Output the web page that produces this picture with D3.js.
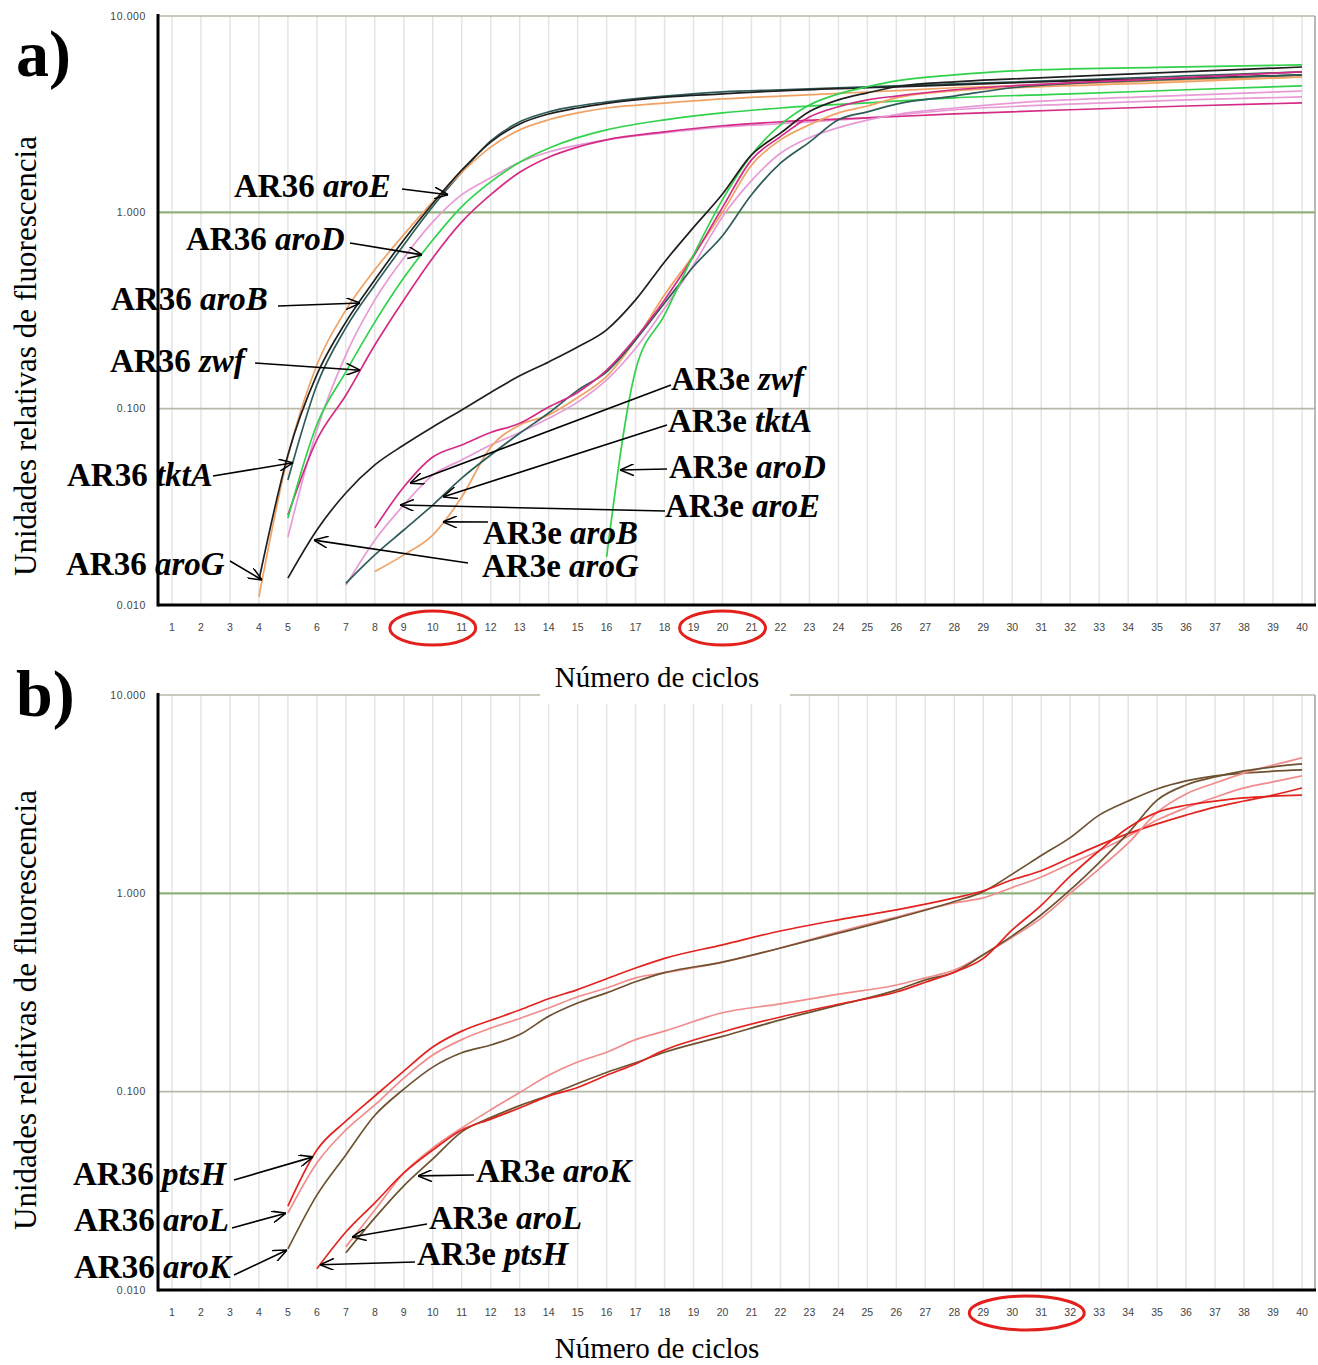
<!DOCTYPE html>
<html>
<head>
	<meta charset="utf-8">
	<title>Curvas de amplificacion</title>
	<script src="https://d3js.org/d3.v7.min.js"></script>
	<style>
		body { margin: 0; background: white; }
		#plot { width: 1318px; height: 1365px; }
	</style>
</head>
<body>
<div id="plot"></div>
<script>
// ---- DATA (cycle, relative fluorescence units) ----
var cycles = d3.range(1, 41)
var yTicks = [0.01, 0.1, 1, 10]
var yTickLabels = ['0.010', '0.100', '1.000', '10.000']

// panel a, strain AR36
var a36_aroG = [[4,0.0134],[5,0.0581],[6,0.149],[7,0.276],[8,0.453],[9,0.723],[10,1.11],[11,1.64],[12,2.28],[13,2.82],[14,3.17],[15,3.40],[16,3.59],[18,3.86],[20,4.01],[22,4.16],[25,4.31],[28,4.46],[32,4.67],[36,4.83],[40,5.01]]
var a36_aroB = [[4,0.0110],[5,0.057],[6,0.167],[7,0.318],[8,0.51],[9,0.77],[10,1.13],[11,1.60],[12,2.15],[13,2.63],[14,2.96],[15,3.21],[16,3.40],[18,3.60],[20,3.78],[22,3.91],[25,4.10],[28,4.31],[32,4.51],[36,4.72],[40,4.89]]
var a36_tktA = [[5,0.0433],[6,0.132],[7,0.258],[8,0.427],[9,0.682],[10,1.07],[11,1.60],[12,2.31],[13,2.89],[14,3.25],[15,3.48],[16,3.65],[18,3.91],[20,4.11],[22,4.21],[25,4.36],[28,4.51],[32,4.72],[36,4.95],[40,5.19]]
var a36_aroE = [[5,0.0222],[6,0.0779],[7,0.188],[8,0.358],[9,0.586],[10,0.894],[11,1.23],[12,1.50],[13,1.80],[14,2.03],[15,2.20],[16,2.34],[18,2.54],[20,2.72],[22,2.83],[25,3.03],[28,3.33],[32,3.56],[36,3.74],[40,3.87]]
var a36_aroD = [[5,0.0277],[6,0.083],[7,0.154],[8,0.276],[9,0.464],[10,0.723],[11,1.07],[12,1.43],[13,1.80],[14,2.12],[15,2.40],[16,2.63],[18,2.96],[20,3.21],[22,3.40],[25,3.61],[28,3.83],[32,4.01],[36,4.21],[40,4.41]]
var a36_zwf  = [[5,0.0287],[6,0.0693],[7,0.117],[8,0.211],[9,0.358],[10,0.586],[11,0.894],[12,1.23],[13,1.60],[14,1.91],[15,2.15],[16,2.34],[18,2.57],[20,2.76],[22,2.89],[25,3.03],[28,3.17],[32,3.33],[36,3.48],[40,3.61]]

// panel a, strain AR3e
var a3e_aroG = [[5,0.0137],[6,0.0241],[7,0.0372],[8,0.0517],[9,0.0653],[10,0.0807],[11,0.0985],[12,0.121],[13,0.147],[14,0.173],[15,0.206],[16,0.252],[17,0.358],[18,0.559],[19,0.838],[20,1.24],[21,1.96],[22,2.53],[23,3.26],[24,3.74],[25,4.06],[26,4.36],[28,4.62],[30,4.78],[35,5.13],[40,5.50]]
var a3e_zwf  = [[8,0.0247],[9,0.0399],[10,0.0567],[11,0.0653],[12,0.0756],[13,0.0842],[14,0.102],[15,0.121],[16,0.157],[17,0.229],[18,0.358],[19,0.597],[20,1.06],[21,1.85],[22,2.43],[23,3.06],[24,3.45],[25,3.74],[26,3.91],[28,4.21],[30,4.41],[35,4.78],[40,5.19]]
var a3e_aroE = [[7,0.0126],[8,0.0214],[9,0.0323],[10,0.0459],[11,0.0548],[12,0.0653],[13,0.0756],[14,0.0894],[15,0.108],[16,0.140],[17,0.203],[18,0.325],[19,0.54],[20,0.95],[21,1.45],[22,2.00],[23,2.40],[24,2.70],[25,2.95],[26,3.15],[28,3.40],[30,3.60],[35,3.90],[40,4.15]]
var a3e_tktA = [[7,0.0129],[8,0.018],[9,0.0241],[10,0.0323],[11,0.0443],[12,0.0581],[13,0.0749],[14,0.095],[15,0.124],[16,0.154],[17,0.224],[18,0.345],[19,0.53],[20,0.76],[21,1.23],[22,1.78],[23,2.28],[24,2.96],[25,3.25],[26,3.56],[28,3.91],[30,4.31],[35,4.72],[40,5.01]]
var a3e_aroB = [[8,0.0148],[9,0.018],[10,0.0227],[11,0.0355],[12,0.0637],[13,0.0826],[14,0.0929],[15,0.114],[16,0.146],[17,0.224],[18,0.380],[19,0.607],[20,1.00],[21,1.74],[22,2.34],[23,2.79],[24,3.21],[25,3.48],[26,3.83],[28,4.16],[30,4.31],[35,4.56],[40,4.89]]
var a3e_aroD = [[16,0.0176],[17,0.157],[18,0.300],[19,0.607],[20,1.16],[21,1.96],[22,2.79],[23,3.52],[24,4.01],[25,4.36],[26,4.67],[28,5.01],[30,5.25],[35,5.47],[40,5.64]]

// panel b, strain AR36
var b36_ptsH = [[5,0.0265],[6,0.0508],[7,0.071],[8,0.0951],[9,0.127],[10,0.168],[11,0.202],[12,0.229],[13,0.258],[14,0.294],[15,0.327],[16,0.371],[17,0.42],[18,0.47],[20,0.55],[22,0.646],[24,0.735],[26,0.825],[28,0.948],[29,1.03],[30,1.17],[31,1.30],[32,1.51],[33,1.75],[34,2.00],[35,2.24],[36,2.48],[37,2.72],[38,2.92],[39,3.13],[40,3.40]]
var b36_aroL = [[5,0.0244],[6,0.0437],[7,0.0641],[8,0.0857],[9,0.117],[10,0.153],[11,0.183],[12,0.209],[13,0.234],[14,0.264],[15,0.301],[16,0.333],[17,0.375],[18,0.398],[20,0.45],[22,0.53],[24,0.64],[26,0.76],[28,0.895],[29,0.948],[30,1.07],[31,1.21],[32,1.41],[33,1.64],[34,1.94],[35,2.34],[36,2.70],[37,3.05],[38,3.40],[39,3.65],[40,3.91]]
var b36_aroK = [[5,0.0161],[6,0.0301],[7,0.048],[8,0.076],[9,0.103],[10,0.133],[11,0.157],[12,0.172],[13,0.194],[14,0.24],[15,0.28],[16,0.315],[17,0.358],[18,0.398],[20,0.45],[22,0.53],[24,0.63],[26,0.75],[28,0.91],[29,1.02],[30,1.25],[31,1.55],[32,1.91],[33,2.48],[34,2.92],[35,3.36],[36,3.69],[37,3.91],[38,4.04],[40,4.19]]

// panel b, strain AR3e
var b3e_ptsH = [[6,0.0128],[7,0.0196],[8,0.0275],[9,0.0389],[10,0.0508],[11,0.0641],[12,0.0727],[13,0.0828],[14,0.095],[15,0.105],[16,0.121],[17,0.138],[18,0.162],[20,0.20],[22,0.238],[24,0.276],[26,0.318],[27,0.356],[28,0.40],[29,0.47],[30,0.654],[31,0.87],[32,1.22],[33,1.64],[34,2.14],[35,2.56],[36,2.78],[37,2.92],[38,3.03],[39,3.09],[40,3.13]]
var b3e_aroL = [[7,0.0165],[8,0.0253],[9,0.0389],[10,0.052],[11,0.0656],[12,0.081],[13,0.099],[14,0.121],[15,0.141],[16,0.158],[17,0.183],[18,0.202],[20,0.25],[22,0.277],[24,0.31],[26,0.345],[27,0.375],[28,0.41],[29,0.49],[30,0.60],[31,0.75],[32,1.00],[33,1.33],[34,1.79],[35,2.56],[36,3.17],[37,3.60],[38,4.04],[39,4.43],[40,4.82]]
var b3e_aroK = [[7,0.0154],[8,0.0231],[9,0.0335],[10,0.0458],[11,0.0627],[12,0.074],[13,0.085],[14,0.096],[15,0.11],[16,0.125],[17,0.14],[18,0.158],[20,0.19],[22,0.23],[24,0.273],[26,0.325],[27,0.366],[28,0.40],[29,0.49],[30,0.61],[31,0.78],[32,1.04],[33,1.43],[34,2.01],[35,2.95],[36,3.52],[37,3.86],[38,4.14],[39,4.34],[40,4.49]]

// ---- STYLE ----
var geneColorA = {aroG:'#202020', aroB:'#f0a264', tktA:'#2e5c58', aroE:'#e89ad6', aroD:'#2fd24a', zwf:'#d42c86'}
var geneColorB = {ptsH:'#e2231f', aroL:'#f08c8c', aroK:'#6e5230'}

var seriesA = [
	{gene:'aroE', data:a36_aroE}, {gene:'zwf', data:a36_zwf}, {gene:'aroD', data:a36_aroD},
	{gene:'tktA', data:a36_tktA}, {gene:'aroB', data:a36_aroB}, {gene:'aroG', data:a36_aroG},
	{gene:'aroE', data:a3e_aroE}, {gene:'aroB', data:a3e_aroB}, {gene:'tktA', data:a3e_tktA},
	{gene:'zwf', data:a3e_zwf}, {gene:'aroD', data:a3e_aroD}, {gene:'aroG', data:a3e_aroG}
]
var seriesB = [
	{gene:'aroL', data:b36_aroL}, {gene:'aroK', data:b36_aroK}, {gene:'ptsH', data:b36_ptsH},
	{gene:'aroL', data:b3e_aroL}, {gene:'aroK', data:b3e_aroK}, {gene:'ptsH', data:b3e_ptsH}
]

// annotations: label position (px), arrow tail (px), arrow tip (cycle, value)
var notesA = [
	{pre:'AR36 ', gene:'aroE', x:234, y:197, tail:[402,189], tip:[10.53,1.23]},
	{pre:'AR36 ', gene:'aroD', x:186, y:250, tail:[350,243], tip:[9.63,0.607]},
	{pre:'AR36 ', gene:'aroB', x:111, y:310, tail:[278,306], tip:[7.49,0.345]},
	{pre:'AR36 ', gene:'zwf',  x:110, y:372, tail:[255,363], tip:[7.49,0.157]},
	{pre:'AR36 ', gene:'tktA', x:67,  y:486, tail:[213,476], tip:[5.18,0.053]},
	{pre:'AR36 ', gene:'aroG', x:66,  y:575, tail:[230,561], tip:[4.11,0.0134]},
	{pre:'AR3e ', gene:'zwf',  x:671, y:390, tail:[671,385], tip:[9.21,0.0417]},
	{pre:'AR3e ', gene:'tktA', x:668, y:432, tail:[667,425], tip:[10.35,0.0355]},
	{pre:'AR3e ', gene:'aroD', x:669, y:478, tail:[667,469], tip:[16.46,0.0487]},
	{pre:'AR3e ', gene:'aroE', x:665, y:517, tail:[665,511], tip:[8.87,0.0323]},
	{pre:'AR3e ', gene:'aroB', x:483, y:544, tail:[488,522], tip:[10.35,0.0265]},
	{pre:'AR3e ', gene:'aroG', x:482, y:577, tail:[468,563], tip:[5.90,0.0214]}
]
var notesB = [
	{pre:'AR36 ', gene:'ptsH', x:73,  y:1185, tail:[234,1180], tip:[5.87,0.0469]},
	{pre:'AR36 ', gene:'aroL', x:74,  y:1231, tail:[232,1228], tip:[4.93,0.0244]},
	{pre:'AR36 ', gene:'aroK', x:74,  y:1278, tail:[234,1275], tip:[4.97,0.0159]},
	{pre:'AR3e ', gene:'aroK', x:476, y:1182, tail:[474,1175], tip:[9.49,0.0376]},
	{pre:'AR3e ', gene:'aroL', x:429, y:1229, tail:[427,1224], tip:[7.21,0.0185]},
	{pre:'AR3e ', gene:'ptsH', x:417, y:1265, tail:[415,1262], tip:[6.11,0.0134]}
]
// highlighted cycle ranges [from, to]
var circlesA = [[9,11],[19,21]]
var circlesB = [[29,32]]

// ---- CHART ----
var W = 1318, H = 1365
var left = 158, right = 1315
var serif = '"Liberation Serif","Times New Roman",serif'

var svg = d3.select('#plot').append('svg')
	.attr('width', W).attr('height', H)
	.style('font-family', serif)

svg.append('defs').append('marker')
	.attr('id','arr')
	.attr('viewBox','0 0 14 12')
	.attr('refX',14).attr('refY',6)
	.attr('markerWidth',14).attr('markerHeight',12)
	.attr('markerUnits','userSpaceOnUse')
	.attr('orient','auto')
	.append('path')
		.attr('d','M0,0 L14,6 L0,12')
		.attr('fill','none')
		.attr('stroke','black')
		.attr('stroke-width',1.5)

var x = d3.scaleLinear().domain([1, 40]).range([172, 1302])

function drawPanel(top, bottom, series, colors, notes, circles, letter, letterY, titleY) {
	var y = d3.scaleLog().domain([0.01, 10]).range([bottom, top])
	var g = svg.append('g')

	// vertical grid
	g.selectAll('.vgrid').data(cycles).enter().append('line')
		.attr('x1', d => x(d)).attr('x2', d => x(d))
		.attr('y1', top).attr('y2', bottom)
		.attr('stroke', '#e4e4e4').attr('stroke-width', 1.5)

	// horizontal grid
	g.selectAll('.hgrid').data(yTicks.slice(1)).enter().append('line')
		.attr('x1', left).attr('x2', right)
		.attr('y1', d => y(d)).attr('y2', d => y(d))
		.attr('stroke', d => d === 1 ? '#8fb27c' : '#b9b9a9')
		.attr('stroke-width', d => d === 1 ? 2.2 : 1.6)

	// right border
	g.append('line').attr('x1', right).attr('x2', right).attr('y1', top).attr('y2', bottom)
		.attr('stroke', '#a0a0a0').attr('stroke-width', 1.5)

	// curves
	var line = d3.line()
		.x(d => x(d[0])).y(d => y(d[1]))
		.curve(d3.curveMonotoneX)
	g.selectAll('.serie').data(series).enter().append('path')
		.attr('d', d => line(d.data))
		.attr('fill', 'none')
		.attr('stroke', d => colors[d.gene])
		.attr('stroke-width', 1.7)

	// axis lines
	g.append('line').attr('x1', left).attr('x2', left).attr('y1', top - 2).attr('y2', bottom + 1.5)
		.attr('stroke', 'black').attr('stroke-width', 3)
	g.append('line').attr('x1', left).attr('x2', right + 1).attr('y1', bottom).attr('y2', bottom)
		.attr('stroke', 'black').attr('stroke-width', 3)

	// tick labels
	g.selectAll('.ylab').data(yTicks).enter().append('text')
		.attr('x', 146).attr('y', d => y(d)).attr('dy', '0.35em')
		.attr('text-anchor', 'end')
		.style('font-family', 'Arial, "Liberation Sans", sans-serif')
		.style('font-size', '10.5px').style('letter-spacing', '0.6px')
		.attr('fill', '#444')
		.text((d, i) => yTickLabels[i])
	g.selectAll('.xlab').data(cycles).enter().append('text')
		.attr('x', d => x(d)).attr('y', bottom + 22).attr('dy', '0.35em')
		.attr('text-anchor', 'middle')
		.style('font-family', 'Arial, "Liberation Sans", sans-serif')
		.style('font-size', '10.5px')
		.attr('fill', '#444')
		.text(d => d)

	// axis title
	g.append('text')
		.attr('transform', 'translate(36,' + titleY + ') rotate(-90)')
		.attr('text-anchor', 'middle')
		.style('font-size', '31px')
		.text('Unidades relativas de fluorescencia')

	// panel letter
	g.append('text').attr('x', 16).attr('y', letterY)
		.style('font-size', '66px').style('font-weight', 'bold')
		.text(letter)

	// annotations
	notes.forEach(function(n) {
		g.append('line')
			.attr('x1', n.tail[0]).attr('y1', n.tail[1])
			.attr('x2', x(n.tip[0])).attr('y2', y(n.tip[1]))
			.attr('stroke', 'black').attr('stroke-width', 1.6)
			.attr('marker-end', 'url(#arr)')
		var t = g.append('text').attr('x', n.x).attr('y', n.y)
			.style('font-size', '33px').style('font-weight', 'bold')
		t.append('tspan').text(n.pre)
		t.append('tspan').style('font-style', 'italic').text(n.gene)
	})

	// red circles on tick labels
	g.selectAll('.circ').data(circles).enter().append('ellipse')
		.attr('cx', d => (x(d[0]) + x(d[1])) / 2)
		.attr('cy', bottom + 23)
		.attr('rx', d => (x(d[1]) - x(d[0])) / 2 + 14)
		.attr('ry', 17)
		.attr('fill', 'none')
		.attr('stroke', '#e3201c').attr('stroke-width', 3)

	return g
}

drawPanel(16, 605, seriesA, geneColorA, notesA, circlesA, 'a)', 76, 356)
drawPanel(695, 1290, seriesB, geneColorB, notesB, circlesB, 'b)', 716, 1010)

// x axis titles (the one of panel a hides part of panel b's top grid line)
svg.append('rect').attr('x', 540).attr('y', 664).attr('width', 250).attr('height', 40).attr('fill', 'white')
svg.append('text').attr('x', 657).attr('y', 687).attr('text-anchor', 'middle')
	.style('font-size', '29px').text('Número de ciclos')
svg.append('text').attr('x', 657).attr('y', 1358).attr('text-anchor', 'middle')
	.style('font-size', '29px').text('Número de ciclos')
</script>
</body>
</html>
